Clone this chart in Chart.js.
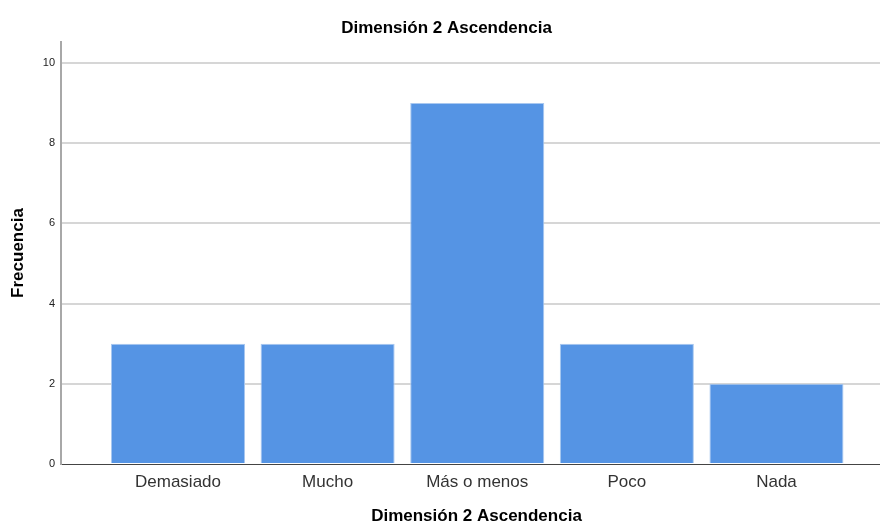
<!DOCTYPE html>
<html>
<head>
<meta charset="utf-8">
<script src="https://cdn.jsdelivr.net/npm/chart.js@4/dist/chart.umd.min.js"></script>
<style>
  html, body { margin: 0; padding: 0; background: #ffffff; }
  #wrap { width: 880px; height: 523px; position: relative; }
</style>
</head>
<body>
<div id="wrap"><canvas id="c" width="880" height="523"></canvas></div>
<script>
const categories = ["Demasiado", "Mucho", "Más o menos", "Poco", "Nada"];
const frecuencia = [3, 3, 9, 3, 2];
const yTicks = [0, 2, 4, 6, 8, 10];
const chartTitle = "Dimensión 2 Ascendencia";
const xTitle = "Dimensión 2 Ascendencia";
const yTitle = "Frecuencia";

const points = frecuencia.map((v, i) => ({ x: i + 1, y: v }));
const FONT = "'Liberation Sans', Arial, sans-serif";

// Draws the x-axis title centred slightly right of the plot centre, as in the reference.
const xTitlePlugin = {
  id: 'xTitlePlugin',
  afterDraw(chart) {
    const ctx = chart.ctx;
    const area = chart.chartArea;
    ctx.save();
    ctx.font = "bold 17px " + FONT;
    ctx.fillStyle = '#000000';
    ctx.textAlign = 'center';
    ctx.textBaseline = 'middle';
    ctx.fillText(xTitle, (area.left + area.right) / 2 + 6, chart.height - 7);
    ctx.restore();
  }
};

new Chart(document.getElementById('c'), {
  type: 'bar',
  data: {
    datasets: [{
      data: points,
      backgroundColor: '#5594e4',
      borderColor: '#a9c8f0',
      borderWidth: 1,
      barPercentage: 0.896,
      categoryPercentage: 1.0
    }]
  },
  plugins: [xTitlePlugin],
  options: {
    responsive: false,
    animation: false,
    layout: { padding: { left: 0, right: -13, top: 0, bottom: 0 } },
    plugins: {
      legend: { display: false },
      tooltip: { enabled: false },
      title: {
        display: true,
        text: chartTitle,
        color: '#000000',
        font: { family: FONT, size: 17, weight: 'bold', lineHeight: 1.2 },
        padding: { top: 17.8, bottom: 3.8 }
      }
    },
    scales: {
      x: {
        type: 'linear',
        min: 0.218,
        max: 5.692,
        offset: false,
        afterBuildTicks: (axis) => { axis.ticks = categories.map((c, i) => ({ value: i + 1 })); },
        afterFit: (scale) => { scale.height = 59; },
        ticks: {
          autoSkip: false,
          maxRotation: 0,
          padding: 8,
          color: '#333333',
          font: { family: FONT, size: 17 },
          callback: (v) => categories[Math.round(v) - 1] || ''
        },
        grid: { display: false, drawTicks: false },
        border: { display: true, color: '#444444', width: 1 },
        title: { display: false }
      },
      y: {
        type: 'linear',
        min: 0,
        max: 10.52,
        afterBuildTicks: (axis) => { axis.ticks = yTicks.map(v => ({ value: v })); },
        afterFit: (scale) => { scale.width = 61; },
        ticks: {
          padding: 6,
          color: '#222222',
          font: { family: FONT, size: 11 }
        },
        grid: {
          drawTicks: false,
          lineWidth: 2,
          color: (ctx) => (ctx.tick && ctx.tick.value === 0) ? 'rgba(0,0,0,0)' : '#d6d6d6'
        },
        border: { display: true, color: '#a8a8a8', width: 2 },
        title: {
          display: true,
          text: yTitle,
          color: '#000000',
          font: { family: FONT, size: 17, weight: 'bold', lineHeight: 1.2 },
          padding: { top: 8.5, bottom: 0 }
        }
      }
    }
  }
});
</script>
</body>
</html>
